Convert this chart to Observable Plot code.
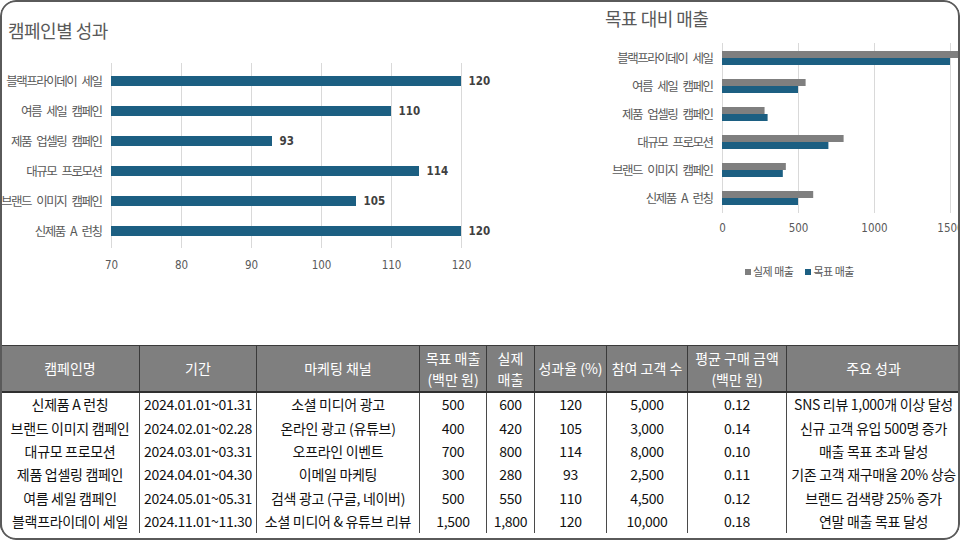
<!DOCTYPE html>
<html>
<head>
<meta charset="utf-8">
<script src="https://cdn.jsdelivr.net/npm/d3@7"></script>
<script src="https://cdn.jsdelivr.net/npm/@observablehq/plot@0.6"></script>
<style>
  html, body { margin: 0; padding: 0; background: #fff; }
  #wrap { position: relative; width: 960px; height: 540px; overflow: hidden; border-radius: 16px; background: #fff; }
  #frame { position: absolute; left: 0; top: 0; width: 960px; height: 540px; box-sizing: border-box; border: 2px solid #5a5a5a; border-radius: 16px; pointer-events: none; z-index: 10; }
  .title { position: absolute; font-family: "Noto Sans CJK KR", sans-serif; color: #595959; font-size: 18px; line-height: 24px; letter-spacing: -0.5px; white-space: nowrap; }
  .chart { position: absolute; }
  .chart svg { overflow: visible; }
  .chart [aria-label="y-axis tick label"] text { font-family: "Noto Sans CJK KR", sans-serif; font-size: 12.5px; letter-spacing: -1.5px; word-spacing: 4px; fill: #595959; }
  .chart [aria-label="x-axis tick label"] text { font-family: "Liberation Sans Narrow", "DejaVu Sans Condensed", "Liberation Sans", sans-serif; font-size: 11.5px; fill: #595959; }
  .chart .vals text { font-family: "Liberation Sans Narrow", "DejaVu Sans Condensed", "Liberation Sans", sans-serif; font-size: 11.5px; font-weight: bold; fill: #404040; }
  #legend { position: absolute; left: 745px; top: 263px; font-family: "Noto Sans CJK KR", sans-serif; font-size: 11px; color: #595959; line-height: 16px; white-space: nowrap; letter-spacing: -0.5px; }
  #legend span.sw { display: inline-block; width: 6px; height: 6px; margin-right: 2px; vertical-align: 1px; }
  #legend span.item { margin-right: 12px; }
  #tbl { position: absolute; left: 0; top: 345px; border-collapse: collapse; table-layout: fixed; width: 960px; font-family: "Noto Sans CJK KR", sans-serif; font-size: 14px; color: #111; }
  #tbl th { background: #7f7f7f; color: #fff; font-weight: normal; height: 45px; padding: 0; line-height: 21px; border: 1px solid #3a3a3a; border-top: 1.5px solid #3a3a3a; border-bottom: 2px solid #2f2f2f; text-align: center; white-space: nowrap; overflow: hidden; }
  #tbl td { height: 23.4px; line-height: 23px; padding: 0; text-align: center; white-space: nowrap; overflow: hidden; border-left: 1px solid #4a4a4a; border-right: 1px solid #4a4a4a; letter-spacing: -0.3px; }
</style>
</head>
<body>
<div id="wrap">
  <div class="title" style="left:8px; top:18px;">캠페인별 성과</div>
  <div class="title" style="left:605px; top:6px;">목표 대비 매출</div>
  <div id="left" class="chart" style="left:0px; top:40px;"></div>
  <div id="right" class="chart" style="left:590px; top:30px;"></div>
  <div id="legend"></div>
  <table id="tbl"></table>
  <div id="frame"></div>
</div>
<script>
// ---- data (table order) ----
const campaigns = ["신제품 A 런칭", "브랜드 이미지 캠페인", "대규모 프로모션", "제품 업셀링 캠페인", "여름 세일 캠페인", "블랙프라이데이 세일"];
const periods = ["2024.01.01~01.31", "2024.02.01~02.28", "2024.03.01~03.31", "2024.04.01~04.30", "2024.05.01~05.31", "2024.11.01~11.30"];
const channels = ["소셜 미디어 광고", "온라인 광고 (유튜브)", "오프라인 이벤트", "이메일 마케팅", "검색 광고 (구글, 네이버)", "소셜 미디어 & 유튜브 리뷰"];
const targetSales = [500, 400, 700, 300, 500, 1500];
const actualSales = [600, 420, 800, 280, 550, 1800];
const rates = [120, 105, 114, 93, 110, 120];
const customers = [5000, 3000, 8000, 2500, 4500, 10000];
const avgPurchase = [0.12, 0.14, 0.10, 0.11, 0.12, 0.18];
const results = ["SNS 리뷰 1,000개 이상 달성", "신규 고객 유입 500명 증가", "매출 목표 초과 달성", "기존 고객 재구매율 20% 상승", "브랜드 검색량 25% 증가", "연말 매출 목표 달성"];
const headers = ["캠페인명", "기간", "마케팅 채널", "목표 매출<br>(백만 원)", "실제<br>매출", "성과율 (%)", "참여 고객 수", "평균 구매 금액<br>(백만 원)", "주요 성과"];
const colWidths = [139, 117, 163, 67, 48, 72, 81, 99, 174];
const rateTicks = [70, 80, 90, 100, 110, 120];
const salesTicks = [0, 500, 1000, 1500];
const seriesNames = ["실제 매출", "목표 매출"];
const colorBlue = "#1c5f82";
const colorGray = "#7f7f7f";

const rows = campaigns.map((c, i) => ({name: c, rate: rates[i], target: targetSales[i], actual: actualSales[i]}));
const chartOrder = campaigns.slice().reverse();
const plain = d => String(d);

// ---- left chart ----
const left = Plot.plot({
  width: 480, height: 240,
  marginLeft: 111, marginRight: 19, marginTop: 23, marginBottom: 32,
  x: {domain: [rateTicks[0], rateTicks[rateTicks.length - 1]], ticks: rateTicks, label: null},
  y: {domain: chartOrder, paddingInner: 0.675, paddingOuter: 0.3375, label: null},
  style: {background: "transparent"},
  marks: [
    Plot.ruleX(rateTicks, {stroke: "#d9d9d9", strokeWidth: 1}),
    Plot.barX(rows, {y: "name", x1: () => rateTicks[0], x2: "rate", fill: colorBlue}),
    Plot.text(rows, {y: "name", x: "rate", text: d => String(d.rate), textAnchor: "start", dx: 7, className: "vals"}),
    Plot.axisX({ticks: rateTicks, tickFormat: plain, tickSize: 0, tickPadding: 12, label: null}),
    Plot.axisY({tickSize: 0, tickPadding: 10, label: null})
  ]
});
document.getElementById("left").appendChild(left);

// ---- right chart ----
const right = Plot.plot({
  width: 370, height: 210,
  marginLeft: 132, marginRight: 10, marginTop: 13, marginBottom: 27,
  x: {domain: [salesTicks[0], salesTicks[salesTicks.length - 1]], ticks: salesTicks, label: null},
  y: {domain: chartOrder, paddingInner: 0.5, paddingOuter: 0.25, label: null},
  style: {background: "transparent"},
  marks: [
    Plot.ruleX(salesTicks, {stroke: "#d9d9d9", strokeWidth: 1}),
    Plot.barX(rows, {y: "name", x: "actual", fill: colorGray, insetBottom: 7}),
    Plot.barX(rows, {y: "name", x: "target", fill: colorBlue, insetTop: 7}),
    Plot.axisX({ticks: salesTicks, tickFormat: plain, tickSize: 0, tickPadding: 10, label: null}),
    Plot.axisY({tickSize: 0, tickPadding: 10, label: null})
  ]
});
document.getElementById("right").appendChild(right);

// ---- legend ----
const legendColors = [colorGray, colorBlue];
document.getElementById("legend").innerHTML = seriesNames.map((s, i) =>
  `<span class="item"><span class="sw" style="background:${legendColors[i]}"></span>${s}</span>`).join("");

// ---- table ----
const fmt = d3.format(",");
let html = "<colgroup>" + colWidths.map(w => `<col style="width:${w}px">`).join("") + "</colgroup>";
html += "<tr>" + headers.map(h => `<th>${h}</th>`).join("") + "</tr>";
campaigns.forEach((c, i) => {
  const cells = [c, periods[i], channels[i], fmt(targetSales[i]), fmt(actualSales[i]), rates[i], fmt(customers[i]), avgPurchase[i].toFixed(2), results[i]];
  html += "<tr>" + cells.map(v => `<td>${v}</td>`).join("") + "</tr>";
});
document.getElementById("tbl").innerHTML = html;
</script>
</body>
</html>
